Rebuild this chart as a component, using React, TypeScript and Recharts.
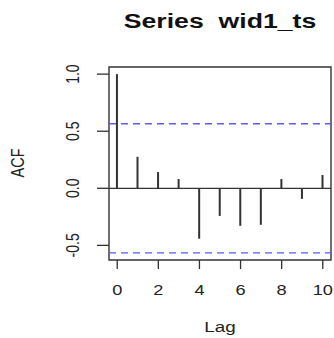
import React from "react";
import { ComposedChart, Bar, XAxis, YAxis, ReferenceLine, ReferenceArea } from "recharts";

const lags = [0, 1, 2, 3, 4, 5, 6, 7, 8, 9, 10];
const acfValues = [1.0, 0.276, 0.142, 0.081, -0.442, -0.242, -0.329, -0.32, 0.081, -0.093, 0.116];
const ciBound = 0.566;
const xTicks = [0, 2, 4, 6, 8, 10];
const yTicks = [-0.5, 0, 0.5, 1.0];
const yTickLabels = ["-0.5", "0.0", "0.5", "1.0"];
const titleText = "Series  wid1_ts";
const xLabel = "Lag";
const yLabel = "ACF";

const data = lags.map((lag, i) => ({ lag, acf: acfValues[i] }));

const X_DOMAIN: [number, number] = [-0.4, 10.4];
const Y_DOMAIN: [number, number] = [-0.6284, 1.0626];
const FONT = "'Liberation Sans', Arial, sans-serif";
const SX = 1.3;
const TXT = "#222";

const XTick = (props: any) => {
  const { x, payload } = props;
  return (
    <text
      transform={`translate(${x},290) scale(${SX},1)`}
      textAnchor="middle"
      dominantBaseline="central"
      fontFamily={FONT}
      fontSize={14}
      fill={TXT}
    >
      {String(payload.value)}
    </text>
  );
};

const YTick = (props: any) => {
  const { y, payload } = props;
  const idx = yTicks.indexOf(payload.value);
  const label = idx >= 0 ? yTickLabels[idx] : String(payload.value);
  return (
    <text
      transform={`translate(72,${y}) rotate(-90) scale(1,${SX})`}
      textAnchor="middle"
      dominantBaseline="central"
      fontFamily={FONT}
      fontSize={14}
      fill={TXT}
    >
      {label}
    </text>
  );
};

export default function App() {
  return (
    <div style={{ position: "absolute", left: 0, top: 0, width: 334, height: 338, background: "#fff" }}>
      <ComposedChart
        width={334}
        height={338}
        data={data}
        margin={{ top: 67, right: 3, bottom: 0, left: 0 }}
      >
        <XAxis
          dataKey="lag"
          type="number"
          domain={X_DOMAIN}
          ticks={xTicks}
          allowDataOverflow
          height={78}
          axisLine={false}
          tickLine={{ stroke: "#333", strokeWidth: 1.3 }}
          tickSize={9}
          tick={<XTick />}
          interval={0}
        />
        <YAxis
          type="number"
          domain={Y_DOMAIN}
          ticks={yTicks}
          allowDataOverflow
          width={109}
          axisLine={false}
          tickLine={{ stroke: "#333", strokeWidth: 1.3 }}
          tickSize={12}
          tick={<YTick />}
          interval={0}
        />
        <ReferenceLine y={0} stroke="#333" strokeWidth={1.3} />
        <ReferenceLine y={ciBound} stroke="#5a5aff" strokeWidth={1.4} strokeDasharray="7 5" />
        <ReferenceLine y={-ciBound} stroke="#5a5aff" strokeWidth={1.4} strokeDasharray="7 5" />
        <Bar dataKey="acf" barSize={2} fill="#333" isAnimationActive={false} />
        <ReferenceArea
          x1={X_DOMAIN[0]}
          x2={X_DOMAIN[1]}
          y1={Y_DOMAIN[0]}
          y2={Y_DOMAIN[1]}
          fill="none"
          fillOpacity={0}
          stroke="#333"
          strokeWidth={1.4}
          ifOverflow="visible"
        />
      </ComposedChart>
      <svg
        width={334}
        height={338}
        style={{ position: "absolute", left: 0, top: 0, pointerEvents: "none" }}
      >
        <text
          transform={`translate(220,21) scale(${SX},1)`}
          textAnchor="middle"
          dominantBaseline="central"
          fontFamily={FONT}
          fontSize={20.5}
          fontWeight="bold"
          fill="#111"
          style={{ whiteSpace: "pre" }}
        >
          {titleText}
        </text>
        <text
          transform={`translate(220,327) scale(${SX},1)`}
          textAnchor="middle"
          dominantBaseline="central"
          fontFamily={FONT}
          fontSize={14.5}
          fill={TXT}
        >
          {xLabel}
        </text>
        <text
          transform={`translate(18,163) rotate(-90) scale(1,${SX})`}
          textAnchor="middle"
          dominantBaseline="central"
          fontFamily={FONT}
          fontSize={14.5}
          fill={TXT}
        >
          {yLabel}
        </text>
      </svg>
    </div>
  );
}
